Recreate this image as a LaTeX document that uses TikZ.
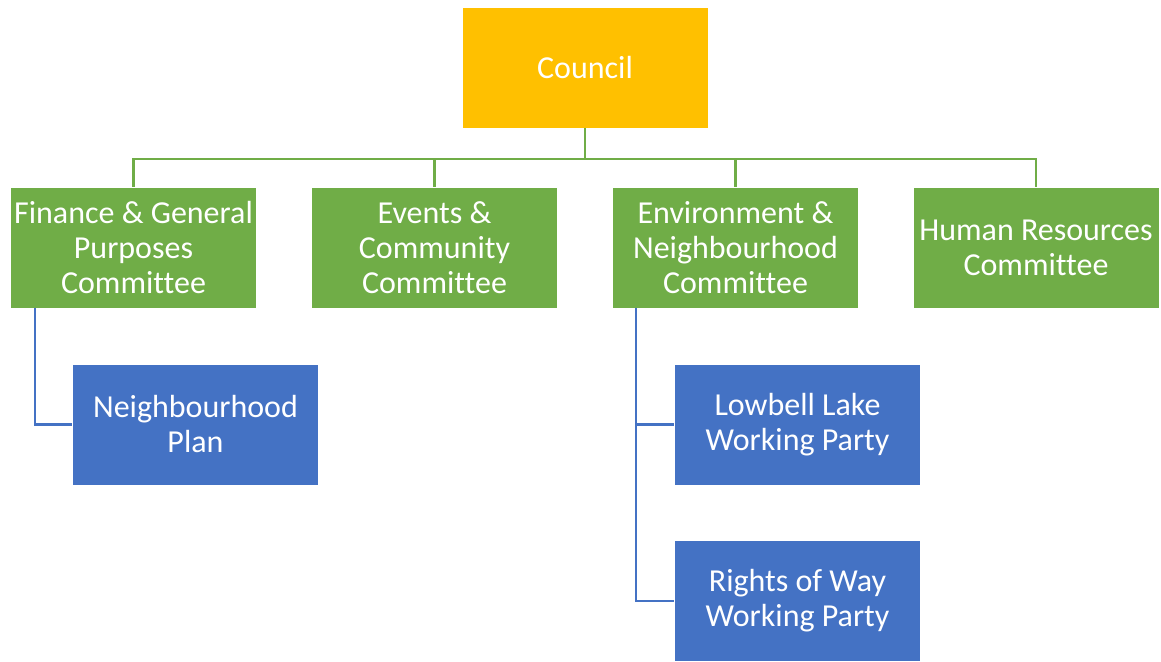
\documentclass[tikz,border=0pt]{standalone}
\usepackage{fontspec}
\setmainfont{Carlito}[Ligatures=NoCommon]
\definecolor{cgold}{HTML}{FFC000}
\definecolor{cgreen}{HTML}{70AD47}
\definecolor{cblue}{HTML}{4472C4}
\begin{document}
\begin{tikzpicture}[x=1pt,y=-1pt,
  box/.style={rectangle, draw=white, line width=0.8pt, minimum width=246pt, minimum height=121pt,
    inner sep=0pt, align=center, text=white, font=\fontsize{32}{35}\selectfont},
  goldbox/.style={box, fill=cgold},
  greenbox/.style={box, fill=cgreen},
  bluebox/.style={box, fill=cblue},
  gline/.style={draw=cgreen, line width=2.2pt},
  bline/.style={draw=cblue, line width=2.2pt}]
\useasboundingbox (0,0) rectangle (1161,661);
\node[goldbox] (council) at (585,67.5) {Council};
\node[greenbox] (g1) at (133.5,247.5) {Finance \& General\\Purposes\\Committee};
\node[greenbox] (g2) at (434.5,247.5) {Events \&\\Community\\Committee};
\node[greenbox] (g3) at (735.5,247.5) {Environment \&\\Neighbourhood\\Committee};
\node[greenbox] (g4) at (1036,247.5) {Human Resources\\Committee};
\node[bluebox] (np) at (195.5,424.5) {Neighbourhood\\Plan};
\node[bluebox] (lw) at (797.5,424.5) {Lowbell Lake\\Working Party};
\node[bluebox] (rw) at (797.5,601) {Rights of Way\\Working Party};
\coordinate (bus) at (585,159);
\draw[gline] (council.south) -- (bus);
\draw[gline] (bus) -| (g1.north);
\draw[gline] (bus) -| (g2.north);
\draw[gline] (bus) -| (g3.north);
\draw[gline] (bus) -| (g4.north);
\coordinate (s1) at (35,308);
\coordinate (s3) at (636,308);
\draw[bline] (s1) |- (np.west);
\draw[bline] (s3) |- (lw.west);
\draw[bline] (s3) |- (rw.west);
\end{tikzpicture}
\end{document}
